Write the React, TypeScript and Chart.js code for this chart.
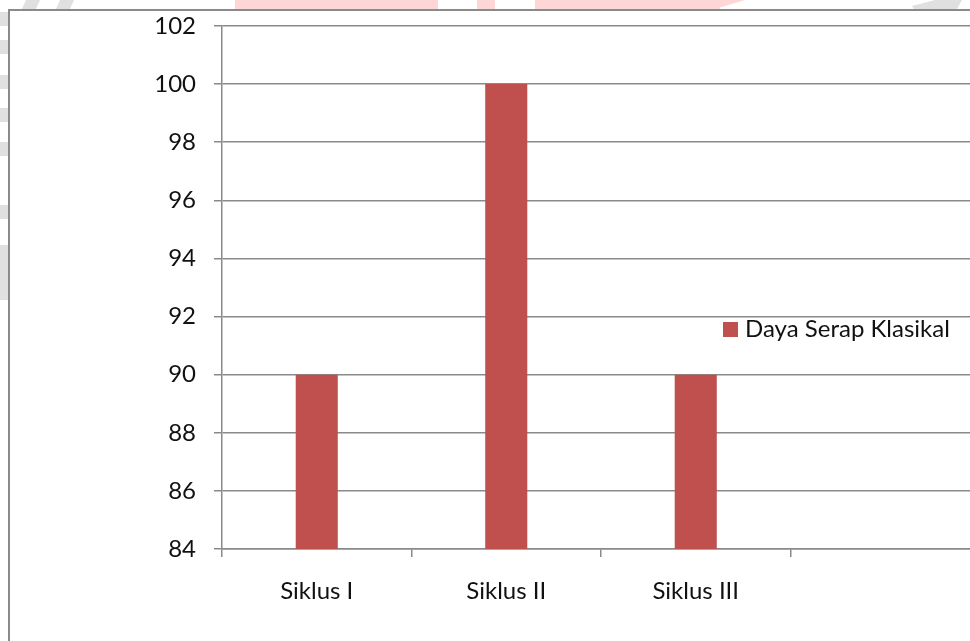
import React, { useEffect, useRef } from "react";
import { Chart, registerables } from "chart.js";

Chart.register(...registerables);

// Chart data
const categories: string[] = ["Siklus I", "Siklus II", "Siklus III", ""];
const dayaSerapKlasikal: (number | null)[] = [90, 100, 90, null];
const seriesLabel = "Daya Serap Klasikal";
const yMin = 84;
const yMax = 102;
const yStep = 2;

const FONT_FAMILY = "Lato, 'Open Sans', sans-serif";
const FONT_SIZE = 24;
const BAR_COLOR = "#C0504D";
const LINE_COLOR = "#8a8a8a";
const TEXT_COLOR = "#111111";

const CANVAS_W = 1000;
const CANVAS_H = 641;
const X_AXIS_H = 62;

// Page backdrop: faint marks in the margin and the chart's outer frame
const frameBackdrop = {
  id: "frameBackdrop",
  beforeDraw(chart: Chart) {
    const { ctx } = chart;
    ctx.save();
    ctx.fillStyle = "#ffffff";
    ctx.fillRect(0, 0, chart.width, chart.height);

    // faint marks above and left of the frame
    ctx.fillStyle = "#ffd6d6";
    ctx.fillRect(235, 0, 203, 9);
    ctx.fillRect(477, 0, 18, 9);
    ctx.fillRect(535, 0, 185, 9);
    ctx.beginPath();
    ctx.moveTo(720, 0);
    ctx.lineTo(745, 0);
    ctx.lineTo(715, 9);
    ctx.lineTo(720, 9);
    ctx.closePath();
    ctx.fill();

    ctx.fillStyle = "#e0e0e0";
    const slant = (x: number, w: number) => {
      ctx.beginPath();
      ctx.moveTo(x + 4, 0);
      ctx.lineTo(x + 4 + w, 0);
      ctx.lineTo(x + w, 9);
      ctx.lineTo(x, 9);
      ctx.closePath();
      ctx.fill();
    };
    slant(22, 14);
    slant(56, 14);
    ctx.beginPath();
    ctx.moveTo(912, 6);
    ctx.lineTo(935, 0);
    ctx.lineTo(962, 0);
    ctx.lineTo(957, 9);
    ctx.lineTo(914, 9);
    ctx.closePath();
    ctx.fill();
    [12, 40, 75, 108, 142, 205].forEach((y) => ctx.fillRect(0, y, 8, 14));
    ctx.fillRect(0, 245, 8, 55);

    // outer frame (left and top edges)
    ctx.fillStyle = LINE_COLOR;
    ctx.fillRect(8, 9, 2, chart.height);
    ctx.fillRect(8, 9, chart.width, 2);
    ctx.restore();
  },
};

// Legend drawn inside the plot, to the right of the last bar
const insideLegend = {
  id: "insideLegend",
  afterDraw(chart: Chart) {
    const { ctx } = chart;
    const ds = chart.data.datasets[0];
    const box = 15;
    const x = 723;
    const y = 322;
    ctx.save();
    ctx.fillStyle = ds.backgroundColor as string;
    ctx.fillRect(x, y, box, box);
    ctx.fillStyle = TEXT_COLOR;
    ctx.font = `${FONT_SIZE}px ${FONT_FAMILY}`;
    ctx.textAlign = "left";
    ctx.textBaseline = "middle";
    ctx.fillText(String(ds.label), x + box + 7, y + box / 2);
    ctx.restore();
  },
};

function BarChart() {
  const ref = useRef<HTMLCanvasElement | null>(null);

  useEffect(() => {
    if (!ref.current) return;
    const chart = new Chart(ref.current, {
      type: "bar",
      data: {
        labels: categories,
        datasets: [
          {
            label: seriesLabel,
            data: dayaSerapKlasikal,
            backgroundColor: BAR_COLOR,
            borderWidth: 0,
            categoryPercentage: 1,
            barPercentage: 0.222,
          },
        ],
      },
      options: {
        responsive: false,
        animation: false,
        devicePixelRatio: 1,
        layout: {
          padding: { left: 0, top: 26, right: 20, bottom: CANVAS_H - 549 - X_AXIS_H },
        },
        plugins: {
          legend: { display: false },
          tooltip: { enabled: false },
        },
        scales: {
          x: {
            grid: {
              drawOnChartArea: false,
              drawTicks: true,
              tickLength: 8,
              color: LINE_COLOR,
              lineWidth: 1.5,
              offset: true,
            },
            border: { color: LINE_COLOR, width: 1.5 },
            ticks: {
              color: TEXT_COLOR,
              font: { family: FONT_FAMILY, size: FONT_SIZE },
              padding: 20,
              maxRotation: 0,
              autoSkip: false,
            },
            afterFit(scale: any) {
              scale.height = X_AXIS_H;
              scale.paddingLeft = 0;
              scale.paddingRight = 0;
            },
          },
          y: {
            min: yMin,
            max: yMax,
            grid: {
              color: LINE_COLOR,
              lineWidth: 1.5,
              tickLength: 8,
            },
            border: { color: LINE_COLOR, width: 1.5 },
            ticks: {
              stepSize: yStep,
              color: TEXT_COLOR,
              font: { family: FONT_FAMILY, size: FONT_SIZE },
              padding: 18,
            },
            afterFit(scale: any) {
              scale.width = 222;
              scale.paddingTop = 0;
              scale.paddingBottom = 0;
            },
          },
        },
      },
      plugins: [frameBackdrop, insideLegend],
    });
    return () => chart.destroy();
  }, []);

  return (
    <canvas
      ref={ref}
      width={CANVAS_W}
      height={CANVAS_H}
      style={{ position: "absolute", left: 0, top: 0, width: CANVAS_W, height: CANVAS_H }}
    />
  );
}

export default function App() {
  return (
    <div
      style={{
        position: "fixed",
        left: 0,
        top: 0,
        width: 970,
        height: 641,
        overflow: "hidden",
        background: "#ffffff",
      }}
    >
      <BarChart />
    </div>
  );
}
